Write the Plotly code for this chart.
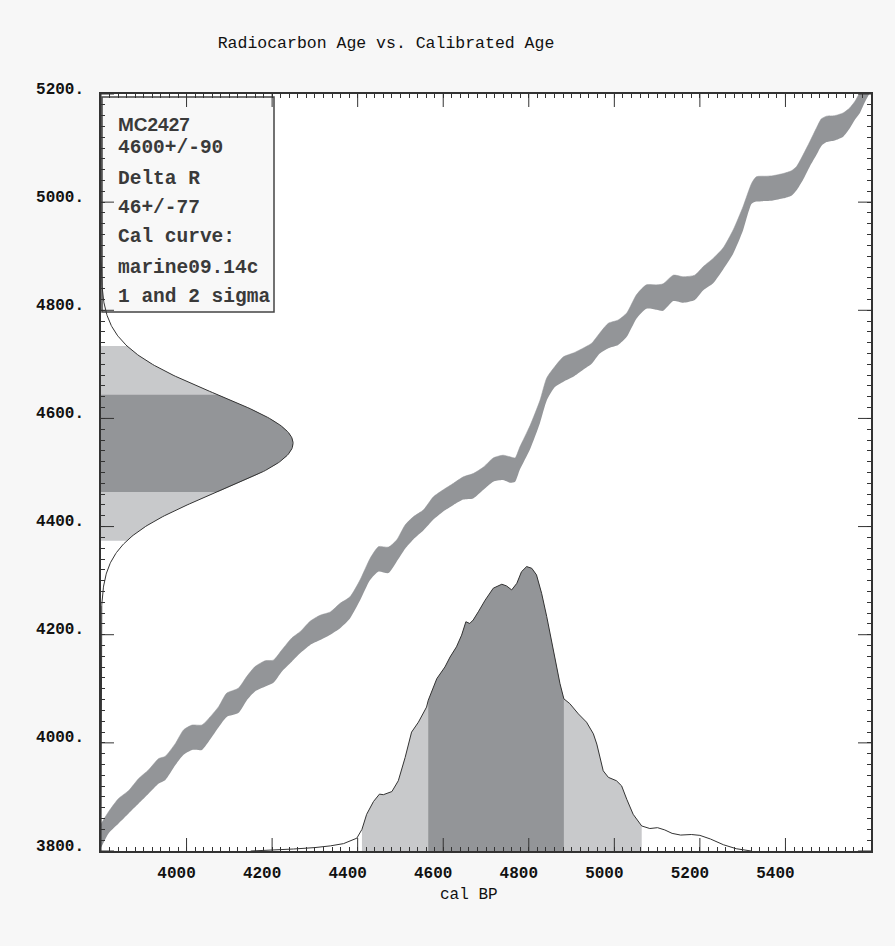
import numpy as np
import plotly.graph_objects as go

# ---- Marine calibration curve (cal BP, 14C age, 1-sigma) ----
cal_bp = [3800, 3818, 3841, 3865, 3888, 3911, 3935, 3950, 3974, 3993, 4013, 4036,
          4055, 4075, 4094, 4121, 4141, 4160, 4184, 4203, 4223, 4246, 4266, 4289,
          4312, 4336, 4359, 4382, 4406, 4429, 4449, 4472, 4491, 4511, 4530, 4554,
          4577, 4600, 4624, 4647, 4670, 4694, 4717, 4740, 4756, 4768, 4779, 4803,
          4826, 4842, 4861, 4881, 4904, 4927, 4947, 4966, 4986, 5009, 5029, 5052,
          5075, 5099, 5114, 5138, 5161, 5188, 5208, 5231, 5254, 5278, 5301, 5321,
          5332, 5356, 5371, 5395, 5414, 5426, 5441, 5457, 5473, 5484, 5496, 5515,
          5535, 5550, 5562, 5574, 5585, 5600]
c14_age = [3828, 3853, 3874, 3891, 3911, 3928, 3948, 3953, 3979, 4001, 4010, 4010,
           4027, 4048, 4070, 4078, 4101, 4118, 4128, 4132, 4152, 4172, 4186, 4203,
           4213, 4221, 4235, 4250, 4283, 4321, 4340, 4338, 4355, 4381, 4397, 4412,
           4434, 4448, 4460, 4471, 4475, 4489, 4505, 4509, 4505, 4505, 4526, 4565,
           4612, 4654, 4677, 4691, 4699, 4710, 4720, 4739, 4753, 4759, 4773, 4807,
           4825, 4824, 4824, 4841, 4838, 4842, 4859, 4873, 4895, 4927, 4970, 5016,
           5024, 5025, 5026, 5030, 5035, 5044, 5064, 5089, 5113, 5129, 5135, 5137,
           5143, 5155, 5169, 5184, 5205, 5228]
c14_sigma = [22, 20, 23, 21, 23, 22, 23, 22, 20, 23, 23, 23,
             21, 19, 22, 23, 22, 23, 24, 21, 20, 22, 20, 22,
             23, 21, 23, 20, 19, 20, 23, 24, 20, 22, 21, 19,
             21, 20, 20, 21, 23, 21, 22, 23, 24, 22, 21, 22,
             21, 21, 19, 23, 22, 20, 19, 19, 23, 23, 22, 22,
             22, 23, 25, 24, 24, 23, 22, 23, 20, 22, 22, 19,
             23, 23, 23, 23, 23, 22, 23, 23, 25, 25, 24, 23,
             22, 19, 17, 19, 21, 22]

# ---- Sample ----
sample_name = "MC2427"
lab_age, lab_error = 4600, 90
delta_r, delta_r_error = 46, 77
curve_name = "marine09.14c"

# ---- Calibrated probability (relative to maximum) ----
pdf_cal = [4150, 4200, 4250, 4300, 4336, 4367, 4398, 4410, 4421, 4437, 4451, 4460,
           4480, 4495, 4511, 4526, 4542, 4561, 4565, 4585, 4604, 4616, 4631, 4643,
           4653, 4662, 4670, 4682, 4698, 4717, 4737, 4748, 4760, 4772, 4783, 4795,
           4807, 4818, 4830, 4842, 4853, 4865, 4873, 4882, 4896, 4916, 4935, 4951,
           4959, 4974, 4986, 5005, 5017, 5029, 5044, 5064, 5083, 5101, 5118, 5135,
           5155, 5180, 5200, 5225, 5255, 5285, 5320]
pdf_prob = [0.000, 0.003, 0.007, 0.012, 0.018, 0.026, 0.045, 0.076, 0.129, 0.174, 0.200, 0.198,
            0.209, 0.247, 0.329, 0.418, 0.453, 0.506, 0.530, 0.606, 0.647, 0.682, 0.718, 0.759,
            0.806, 0.800, 0.812, 0.841, 0.882, 0.924, 0.938, 0.932, 0.918, 0.941, 0.982, 1.000,
            0.994, 0.971, 0.906, 0.824, 0.741, 0.653, 0.588, 0.535, 0.518, 0.482, 0.453, 0.412,
            0.376, 0.282, 0.259, 0.247, 0.229, 0.182, 0.129, 0.088, 0.079, 0.082, 0.074, 0.062,
            0.056, 0.058, 0.055, 0.042, 0.022, 0.008, 0.000]
cal_one_sigma = (4565, 4882)
cal_two_sigma = (4410, 5064)

x_ticks = [4000, 4200, 4400, 4600, 4800, 5000, 5200, 5400]
y_ticks = [3800, 4000, 4200, 4400, 4600, 4800, 5000, 5200]

X_RANGE = (3800, 5600)
Y_RANGE = (3800, 5200)
MINOR_STEP = 20
GAUSS_WIDTH = 449   # peak width of the 14C distribution, in cal BP units
PDF_HEIGHT = 526    # peak height of the calibrated distribution, in 14C yr units

DARK = "#939598"
LIGHT = "#c8c9cb"
INK = "#333333"
MONO = "Liberation Mono, Courier New, monospace"
SANS = "Liberation Sans, Arial, sans-serif"

# plot-area geometry in pixels
PLOT_L, PLOT_R, PLOT_T, PLOT_B = 101, 871, 94, 851
PLOT_W, PLOT_H = PLOT_R - PLOT_L, PLOT_B - PLOT_T
MAJOR_LEN = 13

fig = go.Figure()

# calibration curve band (curve +/- 1 sigma)
cal = np.array(cal_bp)
mid = np.array(c14_age)
sig = np.array(c14_sigma)
fig.add_trace(go.Scatter(x=cal, y=mid - sig, mode="lines",
                         line=dict(width=0, color=DARK, shape="spline", smoothing=0.6),
                         hoverinfo="skip", showlegend=False))
fig.add_trace(go.Scatter(x=cal, y=mid + sig, mode="lines", fill="tonexty", fillcolor=DARK,
                         line=dict(width=0.5, color=DARK, shape="spline", smoothing=0.6),
                         hoverinfo="skip", showlegend=False))

# radiocarbon age distribution (reservoir corrected), drawn off the left axis
mean_age = lab_age - delta_r
gy = np.arange(Y_RANGE[0], Y_RANGE[1] + 2, 2)
gx = X_RANGE[0] + GAUSS_WIDTH * np.exp(-0.5 * ((gy - mean_age) / lab_error) ** 2)
for k, col in ((2, LIGHT), (1, DARK)):
    m = (gy >= mean_age - k * lab_error) & (gy <= mean_age + k * lab_error)
    xs = np.concatenate([[X_RANGE[0]], gx[m], [X_RANGE[0]]])
    ys = np.concatenate([[gy[m][0]], gy[m], [gy[m][-1]]])
    fig.add_trace(go.Scatter(x=xs, y=ys, mode="lines", fill="toself", fillcolor=col,
                             line=dict(width=0), hoverinfo="skip", showlegend=False))
fig.add_trace(go.Scatter(x=gx, y=gy, mode="lines", line=dict(width=1, color=INK),
                         hoverinfo="skip", showlegend=False))

# calibrated age distribution, drawn off the bottom axis
pc = np.array(pdf_cal)
pp = Y_RANGE[0] + PDF_HEIGHT * np.array(pdf_prob)
for (lo, hi), col in ((cal_two_sigma, LIGHT), (cal_one_sigma, DARK)):
    m = (pc >= lo) & (pc <= hi)
    xs = np.concatenate([[pc[m][0]], pc[m], [pc[m][-1]]])
    ys = np.concatenate([[Y_RANGE[0]], pp[m], [Y_RANGE[0]]])
    fig.add_trace(go.Scatter(x=xs, y=ys, mode="lines", fill="toself", fillcolor=col,
                             line=dict(width=0), hoverinfo="skip", showlegend=False))
fig.add_trace(go.Scatter(x=pc, y=pp, mode="lines", line=dict(width=1, color=INK),
                         hoverinfo="skip", showlegend=False))

# axis ticks: short marks every MINOR_STEP, labels only on the major values
x_tickvals = list(range(X_RANGE[0], X_RANGE[1] + 1, MINOR_STEP))
y_tickvals = list(range(Y_RANGE[0], Y_RANGE[1] + 1, MINOR_STEP))
x_ticktext = [str(v) if v in x_ticks else "" for v in x_tickvals]
y_ticktext = [f"{v}." if v in y_ticks else "" for v in y_tickvals]

axis_common = dict(
    showline=True, linecolor=INK, linewidth=1.5, mirror="ticks",
    ticks="inside", ticklen=4, tickwidth=1, tickcolor=INK,
    showgrid=False, zeroline=False, tickmode="array",
    tickfont=dict(family=MONO, size=16, color="#111111", weight="bold"),
)

fig.update_layout(
    width=895, height=946,
    margin=dict(l=PLOT_L, r=895 - PLOT_R, t=PLOT_T, b=946 - PLOT_B),
    paper_bgcolor="#f7f7f7", plot_bgcolor="#ffffff",
    showlegend=False,
    title=dict(text="Radiocarbon Age vs. Calibrated Age", x=386 / 895, xref="container",
               xanchor="center", y=1 - 42 / 946, yanchor="middle",
               font=dict(family=MONO, size=16.5, color="#111111")),
    xaxis=dict(range=list(X_RANGE), tickvals=x_tickvals, ticktext=x_ticktext,
               ticklabelshift=-10, ticklabelstandoff=6, **axis_common),
    yaxis=dict(range=list(Y_RANGE), tickvals=y_tickvals, ticktext=y_ticktext,
               ticklabelshift=-6, ticklabelstandoff=12, **axis_common),
)

# long marks at the major values, on all four sides
tick_line = dict(color=INK, width=1)
hx = MAJOR_LEN / PLOT_H
hy = MAJOR_LEN / PLOT_W
for v in x_ticks:
    fig.add_shape(type="line", xref="x", yref="paper", x0=v, x1=v, y0=0, y1=hx,
                  line=tick_line, layer="above")
    fig.add_shape(type="line", xref="x", yref="paper", x0=v, x1=v, y0=1 - hx, y1=1,
                  line=tick_line, layer="above")
for v in y_ticks:
    fig.add_shape(type="line", xref="paper", yref="y", x0=0, x1=hy, y0=v, y1=v,
                  line=tick_line, layer="above")
    fig.add_shape(type="line", xref="paper", yref="y", x0=1 - hy, x1=1, y0=v, y1=v,
                  line=tick_line, layer="above")

# sample information box
def px_x(p):
    return (p - PLOT_L) / PLOT_W

def px_y(p):
    return (PLOT_B - p) / PLOT_H

fig.add_shape(type="rect", xref="paper", yref="paper", layer="below",
              x0=px_x(102), x1=px_x(274), y0=px_y(312), y1=px_y(97),
              line=dict(color="#444444", width=1.5), fillcolor="#f8f8f8")

info_lines = [
    (sample_name, SANS, 124),
    (f"{lab_age}+/-{lab_error}", MONO, 148),
    ("Delta R", MONO, 179),
    (f"{delta_r}+/-{delta_r_error}", MONO, 208),
    ("Cal curve:", MONO, 237),
    (curve_name, MONO, 268),
    ("1 and 2 sigma", MONO, 297),
]
for text, fam, py in info_lines:
    fig.add_annotation(text=text, xref="paper", yref="paper", x=px_x(116), y=px_y(py),
                       xanchor="left", yanchor="middle", showarrow=False,
                       font=dict(family=fam, size=19 if fam == SANS else 19.5,
                                 color="#3a3a3a", weight="bold"))

fig.add_annotation(text="cal BP", xref="paper", yref="paper", x=px_x(469), y=px_y(895),
                   xanchor="center", yanchor="middle", showarrow=False,
                   font=dict(family=MONO, size=16, color="#111111"))

fig.write_html("out.html")
